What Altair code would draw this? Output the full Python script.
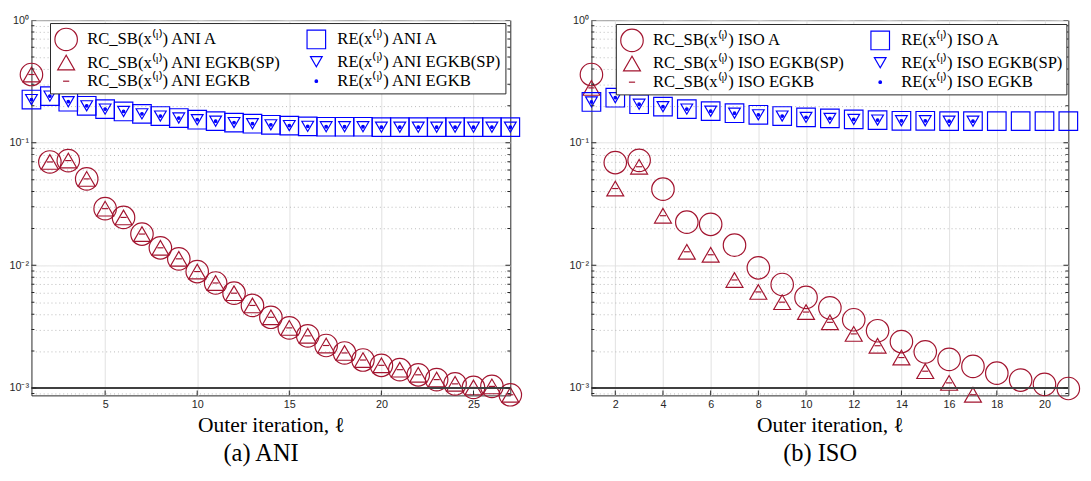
import altair as alt
import pandas as pd

RED = "#A2142F"
BLUE = "#0000FF"

# ---------------- data ----------------
ani_iter = list(range(1, 28))
ani_rc_a = [0.36, 0.0697, 0.0715, 0.0507, 0.0290, 0.0246, 0.0180, 0.0139, 0.0113, 0.0089,
            0.00718, 0.00593, 0.00471, 0.00377, 0.00309, 0.00266, 0.00222, 0.00193, 0.00169,
            0.00153, 0.00141, 0.00128, 0.00117, 0.00108, 0.00101, 0.00103, 0.00088]
ani_rc_sp = [0.36, 0.0697, 0.0715, 0.0507, 0.0290, 0.0246, 0.0180, 0.0139, 0.0113, 0.0089,
             0.00718, 0.00593, 0.00471, 0.00377, 0.00309, 0.00266, 0.00222, 0.00193, 0.00169,
             0.00153, 0.00141, 0.00128, 0.00117, 0.00108, 0.00101, 0.00103, 0.00088]
ani_rc_egkb = [0.36, 0.0697, 0.0715, 0.0507, 0.0290, 0.0246, 0.0180, 0.0139, 0.0113, 0.0089,
               0.00718, 0.00593, 0.00471, 0.00377, 0.00309, 0.00266, 0.00222, 0.00193, 0.00169,
               0.00153, 0.00141, 0.00128, 0.00117, 0.00108, 0.00101, 0.00103, 0.00088]
ani_re_a = [0.225, 0.240, 0.216, 0.200, 0.188, 0.180, 0.172, 0.165, 0.159, 0.154, 0.150,
            0.146, 0.143, 0.140, 0.138, 0.136, 0.135, 0.135, 0.135, 0.134, 0.134, 0.134,
            0.134, 0.134, 0.134, 0.134, 0.134]
ani_re_sp = [0.225, 0.240, 0.216, 0.200, 0.188, 0.180, 0.172, 0.165, 0.159, 0.154, 0.150,
             0.146, 0.143, 0.140, 0.138, 0.136, 0.135, 0.135, 0.135, 0.134, 0.134, 0.134,
             0.134, 0.134, 0.134, 0.134, 0.134]
ani_re_egkb = [0.225, 0.240, 0.216, 0.200, 0.188, 0.180, 0.172, 0.165, 0.159, 0.154, 0.150,
               0.146, 0.143, 0.140, 0.138, 0.136, 0.135, 0.135, 0.135, 0.134, 0.134, 0.134,
               0.134, 0.134, 0.134, 0.134, 0.134]

iso_iter = list(range(1, 22))
iso_rc_a = [0.36, 0.0689, 0.0718, 0.0418, 0.0225, 0.0216, 0.0146, 0.00955, 0.00698, 0.00548,
            0.00450, 0.00360, 0.00293, 0.00239, 0.00197, 0.00171, 0.00150, 0.00132, 0.00116,
            0.00107, 0.00099]
iso_rc_sp = [0.28, 0.0423, 0.0637, 0.0254, 0.0129, 0.0122, 0.0076, 0.00607, 0.00501, 0.00416,
             0.00343, 0.00276, 0.00221, 0.00177, 0.00137, 0.00110, 0.00088]
iso_rc_egkb = [0.28, 0.0423, 0.0637, 0.0254, 0.0129, 0.0122, 0.0076, 0.00607, 0.00501, 0.00416,
               0.00343, 0.00276, 0.00221, 0.00177, 0.00137, 0.00110, 0.00088]
iso_re_a = [0.215, 0.233, 0.206, 0.197, 0.188, 0.181, 0.174, 0.169, 0.165, 0.161, 0.158,
            0.155, 0.153, 0.151, 0.151, 0.150, 0.150, 0.150, 0.150, 0.150, 0.150]
iso_re_sp = [0.215, 0.233, 0.206, 0.197, 0.188, 0.181, 0.174, 0.169, 0.165, 0.161, 0.158,
             0.155, 0.153, 0.151, 0.151, 0.150, 0.150]
iso_re_egkb = [0.215, 0.233, 0.206, 0.197, 0.188, 0.181, 0.174, 0.169, 0.165, 0.161, 0.158,
               0.155, 0.153, 0.151, 0.151, 0.150, 0.150]

tolerance = [1e-3]

ani_xticks = [5, 10, 15, 20, 25]
iso_xticks = [2, 4, 6, 8, 10, 12, 14, 16, 18, 20]
ani_xdomain = [1, 27]
iso_xdomain = [1, 21]
y_domain = [0.00087, 1.0]
y_major = [0.001, 0.01, 0.1, 1.0]
y_minor = [0.0009, 0.002, 0.003, 0.004, 0.005, 0.006, 0.007, 0.008, 0.009,
           0.02, 0.03, 0.04, 0.05, 0.06, 0.07, 0.08, 0.09,
           0.2, 0.3, 0.4, 0.5, 0.6, 0.7, 0.8, 0.9]

# style of the six series (legend fills column by column: RC first, then RE)
strokes = [RED, RED, RED, BLUE, BLUE, BLUE]
fills = ["transparent", "transparent", "transparent", "transparent", "transparent", BLUE]
shapes = ["circle", "triangle-up", "M-1,0L1,0", "square", "triangle-down", "circle"]
sizes = [529, 300, 40, 361, 144, 7]


def names(tag):
    return [f"RC_SB(x⁽ˡ⁾) {tag} A", f"RC_SB(x⁽ˡ⁾) {tag} EGKB(SP)", f"RC_SB(x⁽ˡ⁾) {tag} EGKB",
            f"RE(x⁽ˡ⁾) {tag} A", f"RE(x⁽ˡ⁾) {tag} EGKB(SP)", f"RE(x⁽ˡ⁾) {tag} EGKB"]


def long_df(iters, series, labels):
    rows = []
    for lab, vals in zip(labels, series):
        for it, v in zip(iters, vals):
            rows.append({"iter": it, "value": v, "series": lab})
    return pd.DataFrame(rows)


MAJOR_TEST = "abs(log(datum.value)/LN10 - round(log(datum.value)/LN10)) < 0.001"
LABEL_EXPR = ("abs(datum.value-1)<1e-9 ? '10⁰' : abs(datum.value-0.1)<1e-9 ? '10⁻¹' : "
              "abs(datum.value-0.01)<1e-9 ? '10⁻²' : abs(datum.value-0.001)<1e-9 ? '10⁻³' : ''")

PLOT_H = 384


def panel(iters, series, tag, xdomain, xticks, caption, lx, ly, width):
    labels = names(tag)
    df = long_df(iters, series, labels)
    xs = alt.Scale(domain=xdomain, nice=False, zero=False)
    ys = alt.Scale(type="log", domain=y_domain, nice=False)

    xaxis = alt.Axis(values=xticks, title="Outer iteration, ℓ", grid=True, gridColor="#e0e0e0",
                     labelPadding=3, titlePadding=6, labelOverlap=False)
    yaxis = alt.Axis(
        values=y_major + y_minor, title=None, labelExpr=LABEL_EXPR, labelOverlap=False,
        labelPadding=3, grid=True, minExtent=20, maxExtent=20,
        gridColor={"condition": {"test": MAJOR_TEST, "value": "#e0e0e0"}, "value": "#a8a8a8"},
        gridDash={"condition": {"test": MAJOR_TEST, "value": [1, 0]}, "value": [1, 3]},
        gridWidth={"condition": {"test": MAJOR_TEST, "value": 1}, "value": 0.8})

    legend = alt.Legend(
        title=None, orient="none", legendX=lx, legendY=ly, columns=2,
        labelFont="Liberation Serif", labelFontSize=17, labelColor="black",
        labelLimit=400, labelOffset=9, columnPadding=24, rowPadding=-4,
        padding=4, strokeColor="#262626", fillColor="white",
        symbolStrokeWidth=1.2, symbolOpacity=1,
    )

    points = alt.Chart(df).mark_point(filled=False, strokeWidth=1.2, opacity=1).encode(
        x=alt.X("iter:Q", scale=xs, axis=xaxis),
        y=alt.Y("value:Q", scale=ys, axis=yaxis),
        stroke=alt.Stroke("series:N", scale=alt.Scale(domain=labels, range=strokes), legend=legend),
        fill=alt.Fill("series:N", scale=alt.Scale(domain=labels, range=fills), legend=legend),
        shape=alt.Shape("series:N", scale=alt.Scale(domain=labels, range=shapes), legend=legend),
        size=alt.Size("series:N", scale=alt.Scale(type="ordinal", domain=labels, range=sizes),
                      legend=legend),
    )

    tol = alt.Chart(pd.DataFrame({"value": tolerance})).mark_rule(
        color="#404040", strokeWidth=2).encode(
        y=alt.Y("value:Q", scale=ys, axis=yaxis))

    ytick_major = pd.DataFrame({"value": y_major * 2,
                                "iter": [xdomain[0]] * len(y_major) + [xdomain[1]] * len(y_major)})
    ytick_minor = pd.DataFrame({"value": y_minor * 2,
                                "iter": [xdomain[0]] * len(y_minor) + [xdomain[1]] * len(y_minor)})
    xtick = pd.DataFrame({"iter": xticks, "value": [y_domain[0]] * len(xticks)})

    tk_major = alt.Chart(ytick_major).mark_tick(
        orient="horizontal", size=10, thickness=1, color="#262626", clip=True, opacity=1).encode(
        x=alt.X("iter:Q", scale=xs, axis=xaxis), y=alt.Y("value:Q", scale=ys, axis=yaxis))
    tk_minor = alt.Chart(ytick_minor).mark_tick(
        orient="horizontal", size=6, thickness=1, color="#262626", clip=True, opacity=1).encode(
        x=alt.X("iter:Q", scale=xs, axis=xaxis), y=alt.Y("value:Q", scale=ys, axis=yaxis))
    tk_x = alt.Chart(xtick).mark_tick(
        orient="vertical", size=10, thickness=1, color="#262626", clip=True, opacity=1).encode(
        x=alt.X("iter:Q", scale=xs, axis=xaxis), y=alt.Y("value:Q", scale=ys, axis=yaxis))

    return alt.layer(points, tol, tk_major, tk_minor, tk_x).properties(
        width=width, height=PLOT_H,
        title=alt.TitleParams(caption, orient="bottom", anchor="middle", font="Liberation Serif",
                              fontSize=25, fontWeight="normal", color="black", offset=6, dx=-10),
    )


left = panel(ani_iter, [ani_rc_a, ani_rc_sp, ani_rc_egkb, ani_re_a, ani_re_sp, ani_re_egkb],
             "ANI", ani_xdomain, ani_xticks, "(a) ANI", 19, 3, 490)
right = panel(iso_iter, [iso_rc_a, iso_rc_sp, iso_rc_egkb, iso_re_a, iso_re_sp, iso_re_egkb],
              "ISO", iso_xdomain, iso_xticks, "(b) ISO", 25, 4, 488)

chart = alt.hconcat(left, right, spacing=44).resolve_scale(
    x="independent", y="independent", stroke="independent", fill="independent",
    shape="independent", size="independent",
).resolve_legend(
    stroke="independent", fill="independent", shape="independent", size="independent",
).configure_view(
    stroke="#262626", strokeWidth=1,
).configure_axis(
    domain=False, ticks=False, tickSize=0,
    labelFont="Liberation Sans", labelFontSize=11, labelColor="#262626",
    titleFont="Liberation Serif", titleFontSize=22, titleFontWeight="normal", titleColor="black",
).properties(
    padding={"left": 0, "top": 0, "right": 0, "bottom": 0}, background="white",
)

chart.save("out.html", embed_options={"renderer": "svg", "actions": False})
